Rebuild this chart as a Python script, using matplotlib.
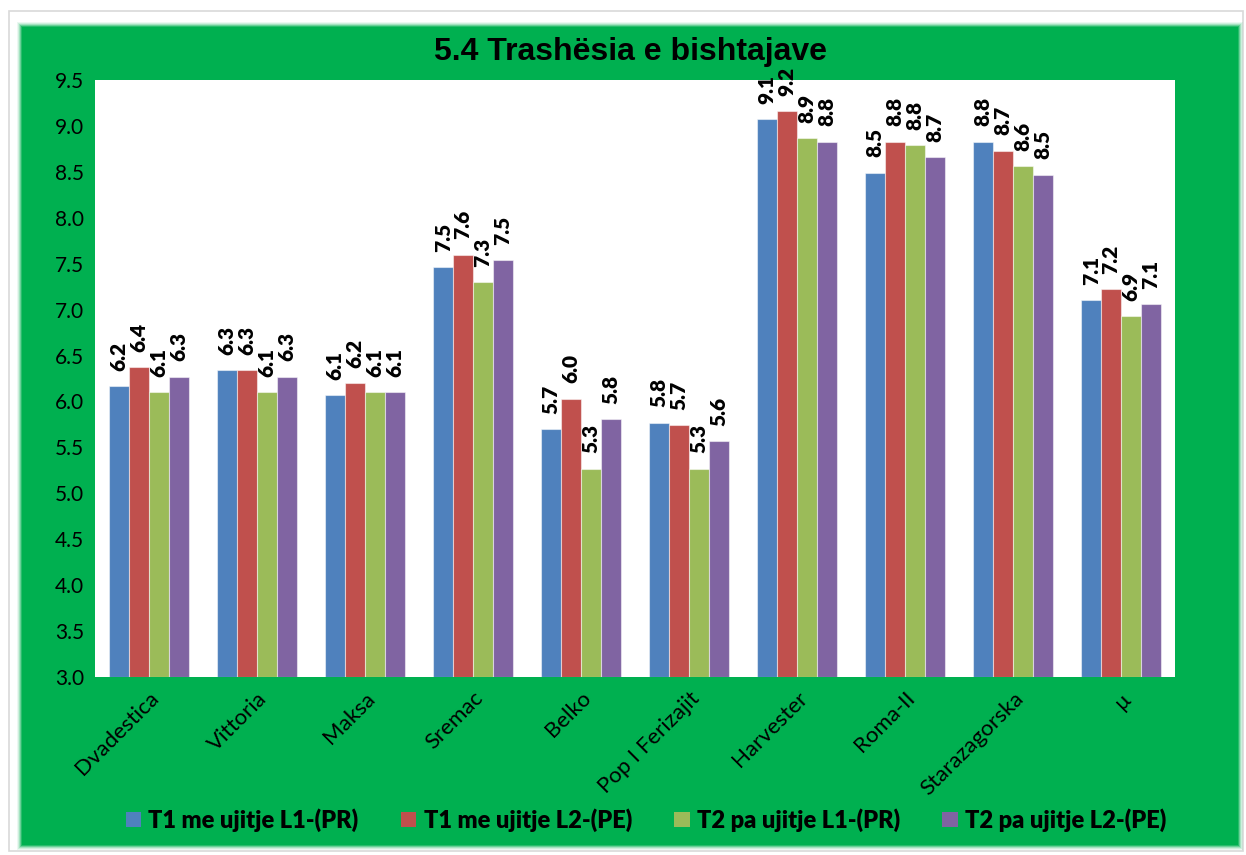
import matplotlib
matplotlib.use("Agg")
import matplotlib.pyplot as plt
import matplotlib.transforms as mtransforms
from matplotlib.patches import Rectangle
import numpy as np

plt.rcParams["font.family"] = ["Lato", "DejaVu Sans"]

# varietetet dhe mesatarja
kategorite = ["Dvadestica", "Vittoria", "Maksa", "Sremac", "Belko",
              "Pop I Ferizajit", "Harvester", "Roma-II", "Starazagorska", "\u00b5"]

t1_l1 = [6.17, 6.34, 6.07, 7.46, 5.70, 5.77, 9.07, 8.49, 8.83, 7.10]
t1_l2 = [6.37, 6.34, 6.20, 7.60, 6.03, 5.74, 9.16, 8.83, 8.73, 7.22]
t2_l1 = [6.10, 6.10, 6.10, 7.30, 5.27, 5.27, 8.87, 8.79, 8.56, 6.93]
t2_l2 = [6.27, 6.27, 6.10, 7.54, 5.81, 5.57, 8.83, 8.66, 8.47, 7.06]

seritë = ["T1 me ujitje L1-(PR)", "T1 me ujitje L2-(PE)",
          "T2 pa ujitje L1-(PR)", "T2 pa ujitje L2-(PE)"]
ngjyrat = ["#4F81BD", "#C0504D", "#9BBB59", "#8064A2"]

W, H = 1246, 855
fig = plt.figure(figsize=(W / 100, H / 100), dpi=100)
fig.patch.set_facecolor("white")

# korniza gri e jashtme
fig.patches.append(Rectangle((9 / W, 1 - 851 / H), (1243 - 9) / W, (851 - 11) / H,
                             transform=fig.transFigure, fill=False,
                             edgecolor="#D9D9D9", linewidth=1.2, zorder=0))

# paneli jeshil me skaje te buta
x0, y0, x1, y1 = 22, 27, 1238, 845
for k, a in [(5, 0.08), (4, 0.12), (3, 0.2), (2, 0.35), (1, 0.6)]:
    fig.patches.append(Rectangle(((x0 - k) / W, 1 - (y1 + k) / H),
                                 (x1 - x0 + 2 * k) / W, (y1 - y0 + 2 * k) / H,
                                 transform=fig.transFigure, facecolor="#00B050",
                                 edgecolor="none", alpha=a, zorder=1))
fig.patches.append(Rectangle((x0 / W, 1 - y1 / H), (x1 - x0) / W, (y1 - y0) / H,
                             transform=fig.transFigure, facecolor="#00B050",
                             edgecolor="none", zorder=2))

ax = fig.add_axes([95 / W, 1 - 677 / H, (1175 - 95) / W, (677 - 80) / H])
ax.set_facecolor("white")
ax.set_zorder(3)

x = np.arange(len(kategorite))
w = 0.183
te_dhenat = [t1_l1, t1_l2, t2_l1, t2_l2]
for i, (vlerat, emri, ngj) in enumerate(zip(te_dhenat, seritë, ngjyrat)):
    pos = x + (i - 1.5) * w
    ax.bar(pos, np.array(vlerat) - 3.0, bottom=3.0, width=w, color=ngj,
           edgecolor=(1, 1, 1, 0.5), linewidth=0.8, label=emri)
    for px, v in zip(pos, vlerat):
        ax.annotate(f"{v:.1f}", (px, v), xytext=(0, 11), textcoords="offset points",
                    rotation=90, ha="center", va="bottom", fontsize=15,
                    fontweight="heavy", annotation_clip=False)

ax.set_xlim(-0.5, len(kategorite) - 0.5)
ax.set_ylim(3.0, 9.5)
ax.set_yticks(np.arange(3.0, 9.51, 0.5))
ax.set_yticklabels([f"{t:.1f}" for t in np.arange(3.0, 9.51, 0.5)], fontsize=15)
ax.set_xticks(x)
ax.set_xticklabels(kategorite, fontsize=16, rotation=45, ha="right",
                   va="top", rotation_mode="anchor")
offset = mtransforms.ScaledTranslation(3 / 100, -17 / 100, fig.dpi_scale_trans)
for lbl in ax.get_xticklabels():
    lbl.set_transform(lbl.get_transform() + offset)
ax.tick_params(length=0, pad=8)
for s in ax.spines.values():
    s.set_visible(False)

fig.text(631 / W, 1 - 52 / H, "5.4 Trashësia e bishtajave", ha="center",
         va="center", fontsize=23, fontweight="bold",
         family=["Liberation Sans", "DejaVu Sans"], zorder=5)

leg = fig.legend(loc="center", bbox_to_anchor=(646 / W, 1 - 820 / H), ncol=4,
                 frameon=False, prop={"size": 17, "weight": "heavy"},
                 handlelength=0.65, handleheight=0.65, handletextpad=0.3,
                 columnspacing=1.8)
for h in leg.legend_handles:
    h.set_edgecolor("none")
leg.set_zorder(5)

fig.savefig("out.png", dpi=100, facecolor=fig.get_facecolor())
